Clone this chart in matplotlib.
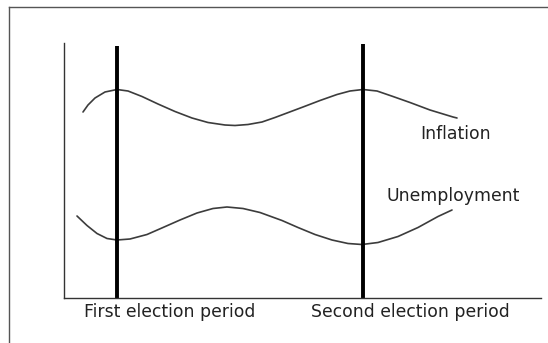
import matplotlib
matplotlib.use("Agg")
import matplotlib.pyplot as plt
from matplotlib.lines import Line2D

# ---- data (time axis 0..477, level axis 0..255) ----
inflation_x = [19, 24, 31, 41, 53, 64, 78, 94, 111, 128, 144, 161, 171, 184,
               198, 211, 223, 239, 256, 273, 286, 299, 313, 329, 346, 366, 389, 393]
inflation_y = [186, 193, 200, 206, 208.5, 207, 201.5, 194, 186.5, 180, 175.5, 173, 172.5, 173.5,
               176, 180.5, 185, 191, 197.5, 203.5, 207, 208.5, 207, 201.5, 195.5, 188, 181, 180]

unemployment_x = [13, 23, 33, 43, 53, 66, 83, 99, 116, 133, 149, 163, 179, 196,
                  218, 234, 251, 268, 284, 298, 314, 334, 354, 374, 388]
unemployment_y = [82, 72.5, 64.5, 59.5, 58, 59, 63.5, 70.5, 78, 85, 89.5, 91, 89.5, 85.5,
                  77.5, 70.5, 63.5, 58, 54.5, 53.5, 55.5, 61.5, 70.5, 81.5, 88]

election_x = [53, 299]
election_top = [252, 254]
election_labels = ["First election period", "Second election period"]
curve_labels = ["Inflation", "Unemployment"]

W, H = 548, 343
fig = plt.figure(figsize=(W / 100, H / 100), dpi=100)
fig.patch.set_facecolor("white")

ax = fig.add_axes([64 / W, (H - 298) / H, (541 - 64) / W, (298 - 43) / H])
ax.set_xlim(0, 477)
ax.set_ylim(0, 255)
for s in ["top", "right"]:
    ax.spines[s].set_visible(False)
for s in ["left", "bottom"]:
    ax.spines[s].set_color("#333333")
    ax.spines[s].set_linewidth(1.0)
ax.set_xticks([])
ax.set_yticks([])

ax.plot(inflation_x, inflation_y, color="#3c3c3c", lw=1.2,
        solid_capstyle="round", solid_joinstyle="round")
ax.plot(unemployment_x, unemployment_y, color="#3c3c3c", lw=1.2,
        solid_capstyle="round", solid_joinstyle="round")
ax.vlines(election_x, 0, election_top, colors="black", lw=2.8)

font = dict(family="DejaVu Sans", size=12.4, color="#222222")
ax.text(106, -14, election_labels[0], ha="center", va="center", clip_on=False, **font)
ax.text(346, -14, election_labels[1], ha="center", va="center", clip_on=False, **font)
ax.text(392, 164, curve_labels[0], ha="center", va="center", **font)
ax.text(389, 102, curve_labels[1], ha="center", va="center", **font)

# outer frame (top and left edges only, as in the reference)
fig.add_artist(Line2D([9 / W, 1], [1 - 7 / H, 1 - 7 / H], transform=fig.transFigure,
                      color="#555555", lw=1.0))
fig.add_artist(Line2D([9 / W, 9 / W], [0, 1 - 7 / H], transform=fig.transFigure,
                      color="#555555", lw=1.0))

fig.savefig("out.png", dpi=100, facecolor="white")
